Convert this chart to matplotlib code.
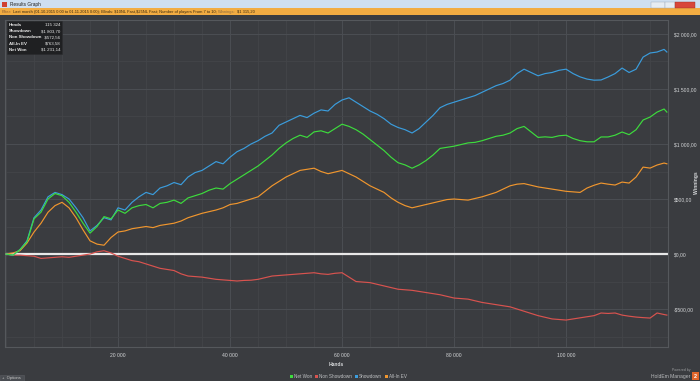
import matplotlib
matplotlib.use("Agg")
import matplotlib.pyplot as plt
from matplotlib.patches import Rectangle
from matplotlib.ticker import FixedLocator, MultipleLocator

# hands axis positions (chart's own x scale), step 1250
hands = [i * 1250 for i in range(95)] + [118000]

showdown = [0, -10, 40, 120, 330, 400, 520, 560, 540, 500, 420, 330, 210, 260, 330, 310,
            420, 400, 470, 520, 560, 540, 600, 620, 650, 630, 700, 740, 760, 800, 840, 820,
            880, 930, 960, 1000, 1030, 1070, 1100, 1170, 1200, 1230, 1260, 1240, 1280, 1310,
            1300, 1360, 1400, 1420, 1380, 1340, 1300, 1270, 1230, 1180, 1150, 1130, 1100,
            1140, 1200, 1260, 1330, 1360, 1380, 1400, 1420, 1440, 1470, 1500, 1530, 1550,
            1580, 1640, 1680, 1650, 1620, 1640, 1650, 1670, 1680, 1640, 1610, 1590, 1580,
            1582, 1609, 1640, 1690, 1650, 1680, 1790, 1827, 1836, 1860, 1836]

non_showdown = [0, -10, -10, -15, -20, -40, -35, -30, -25, -30, -20, -10, 0, 20, 30, 10,
                -20, -40, -60, -70, -90, -110, -130, -140, -150, -180, -200, -205, -210,
                -220, -230, -235, -240, -245, -240, -238, -230, -215, -200, -195, -190,
                -185, -180, -175, -170, -180, -185, -175, -170, -210, -250, -255, -260,
                -275, -290, -305, -320, -325, -330, -340, -350, -360, -370, -385, -400,
                -405, -410, -425, -440, -450, -460, -470, -480, -500, -520, -540, -560,
                -575, -590, -595, -600, -590, -580, -570, -560, -536, -540, -536, -555,
                -565, -573, -578, -582, -536, -550, -555]

net_won = [0, -10, 40, 110, 320, 380, 500, 550, 530, 470, 380, 280, 190, 250, 340, 320,
           400, 370, 420, 440, 450, 420, 460, 470, 490, 460, 510, 530, 550, 580, 600, 590,
           640, 680, 720, 760, 800, 850, 900, 960, 1010, 1050, 1080, 1060, 1110, 1120, 1100,
           1140, 1180, 1160, 1130, 1090, 1040, 990, 940, 880, 830, 810, 780, 810, 850, 900,
           960, 970, 980, 995, 1010, 1015, 1030, 1050, 1070, 1080, 1100, 1140, 1160, 1110,
           1060, 1065, 1060, 1075, 1080, 1050, 1030, 1020, 1020, 1064, 1064, 1080, 1109,
           1085, 1130, 1218, 1245, 1290, 1318, 1290]

allin_ev = [0, 10, 30, 100, 200, 280, 380, 440, 470, 420, 330, 220, 120, 90, 80, 150, 200,
            210, 230, 240, 250, 240, 260, 270, 280, 300, 330, 350, 370, 385, 400, 420, 450,
            460, 480, 500, 520, 570, 620, 660, 700, 730, 760, 770, 780, 750, 730, 745, 760,
            730, 700, 660, 620, 590, 560, 510, 470, 440, 420, 435, 450, 465, 480, 495, 500,
            495, 490, 505, 520, 540, 560, 590, 620, 635, 640, 625, 610, 600, 590, 580, 570,
            565, 560, 600, 625, 645, 635, 627, 654, 645, 700, 790, 781, 809, 827, 820]

y_ticks = [-500, 0, 500, 1000, 1500, 2000]
y_tick_labels = ["-$500,00", "$0,00", "$500,00", "$1 000,00", "$1 500,00", "$2 000,00"]
x_ticks = [20000, 40000, 60000, 80000, 100000]
x_tick_labels = ["20 000", "40 000", "60 000", "80 000", "100 000"]

stat_labels = ["Hands", "Showdown", "Non Showdown", "All-In EV", "Net Won"]
stat_values = ["115 324", "$1 803,70", "-$572,56", "$763,58", "$1 231,14"]

legend_names = ["Net Won", "Non Showdown", "Showdown", "All-In EV"]

BG = "#3a3c40"
GRID = "#4a4d52"
TXT = "#d4d6d8"
C_NET = "#3ddc3d"
C_NSD = "#d9534f"
C_SD = "#3b9ddd"
C_EV = "#f0962e"

plt.rcParams['font.family'] = ['Liberation Sans', 'DejaVu Sans']
plt.rcParams['text.parse_math'] = False

W, H = 700, 381
fig = plt.figure(figsize=(7, 3.81), dpi=100, facecolor=BG)
renderer = fig.canvas.get_renderer()


def fx(px):
    return px / W


def fy(py):
    return 1 - py / H


ax = fig.add_axes([fx(5), fy(347), fx(668) - fx(5), fy(20) - fy(347)])
ax.set_facecolor(BG)
ax.set_xlim(-180, 118200)
ax.set_ylim(-845, 2127)

ax.xaxis.set_major_locator(FixedLocator(x_ticks))
ax.xaxis.set_minor_locator(MultipleLocator(5000))
ax.yaxis.set_major_locator(FixedLocator(y_ticks))
ax.yaxis.set_minor_locator(MultipleLocator(250))
ax.grid(True, which="major", color=GRID, lw=0.8)
ax.grid(True, which="minor", color="#434549", lw=0.6)
ax.set_axisbelow(True)
for s in ax.spines.values():
    s.set_color("#55585c")
    s.set_linewidth(0.8)

ax.axhline(0, color="#e8e8e8", lw=1.6, zorder=2)

lw = 0.85
ax.plot(hands, non_showdown, color=C_NSD, lw=lw, zorder=3)
ax.plot(hands, allin_ev, color=C_EV, lw=lw, zorder=3)
ax.plot(hands, net_won, color=C_NET, lw=lw, zorder=4)
ax.plot(hands, showdown, color=C_SD, lw=lw, zorder=3)

ax.yaxis.tick_right()
ax.set_yticklabels(y_tick_labels)
ax.set_xticklabels(x_tick_labels)
ax.tick_params(axis="both", which="both", length=0, colors=TXT, labelsize=3.6)
ax.tick_params(axis="y", pad=4)
ax.tick_params(axis="x", pad=4)
ax.set_xlabel("Hands", color=TXT, fontsize=3.6, fontweight="bold", labelpad=3)
fig.text(fx(696.5), fy(183), "Winnings", color=TXT, fontsize=3.6, fontweight="bold",
         rotation=90, ha="center", va="center")


def seq_text(x_px, y_px, pieces, fontsize, gap_px=1.5, **kw):
    """Place text pieces one after another starting at x_px."""
    x = x_px
    for s, c, extra in pieces:
        t = fig.text(fx(x), fy(y_px), s, fontsize=fontsize, color=c, va="center", **kw, **extra)
        bb = t.get_window_extent(renderer=renderer)
        x = bb.x1 + gap_px
    return x


# title bar
fig.patches.append(Rectangle((0, fy(8.5)), 1, 8.5 / H, transform=fig.transFigure,
                             facecolor="#cfdff0", edgecolor="none", zorder=0))
fig.patches.append(Rectangle((fx(2), fy(7)), 5 / W, 5 / H, transform=fig.transFigure,
                             facecolor="#d04030", edgecolor="none", zorder=1))
fig.text(fx(10), fy(4.2), "Results Graph", fontsize=3.4, color="#202020", va="center")
fig.patches.append(Rectangle((fx(651), fy(7.5)), 14 / W, 6 / H, transform=fig.transFigure,
                             facecolor="#e6ecf2", edgecolor="#9aa8b8", lw=0.3, zorder=1))
fig.patches.append(Rectangle((fx(665), fy(7.5)), 10 / W, 6 / H, transform=fig.transFigure,
                             facecolor="#e6ecf2", edgecolor="#9aa8b8", lw=0.3, zorder=1))
fig.patches.append(Rectangle((fx(675), fy(7.5)), 20 / W, 6 / H, transform=fig.transFigure,
                             facecolor="#d8463a", edgecolor="#9a3028", lw=0.3, zorder=1))

# orange filter bar
fig.patches.append(Rectangle((0, fy(15)), 1, 6.5 / H, transform=fig.transFigure,
                             facecolor="#f2ac42", edgecolor="none", zorder=0))
seq_text(2, 11.8, [
    ("Filter:", "#8a5a30", {}),
    ("Last month (01.10.2015 0:00 to 01.11.2015 0:00); Blinds: $10NL Fast,$25NL Fast; "
     "Number of players From 7 to 10;", "#3a2a10", {}),
    ("Winnings:", "#8a6a40", {}),
    ("$1 315,20", "#3a2a10", {}),
], fontsize=2.9, gap_px=1.2)

# stats box
fig.patches.append(Rectangle((fx(7), fy(54)), 55 / W, 33 / H, transform=fig.transFigure,
                             facecolor="#1f2022", edgecolor="#2a2b2d", lw=0.4, zorder=5))
for i, (lab, val) in enumerate(zip(stat_labels, stat_values)):
    yy = fy(25 + i * 6.2)
    fig.text(fx(9), yy, lab, fontsize=3.2, color="#e8e8e8", va="center", fontweight="bold",
             zorder=6)
    fig.text(fx(60.5), yy, val, fontsize=3.2, color="#e8e8e8", va="center", ha="right",
             zorder=6)

# legend
leg_colors = [C_NET, C_NSD, C_SD, C_EV]
x = 290
for name, c in zip(legend_names, leg_colors):
    fig.patches.append(Rectangle((fx(x), fy(377.5)), 2.5 / W, 2.5 / H,
                                 transform=fig.transFigure, facecolor=c, edgecolor="none"))
    t = fig.text(fx(x + 4), fy(376.3), name, fontsize=3.3, color="#c0c2c4", va="center")
    x = t.get_window_extent(renderer=renderer).x1 + 3

# options button
fig.patches.append(Rectangle((0, 0), 24 / W, 6 / H, transform=fig.transFigure,
                             facecolor="#4a4d52", edgecolor="#5a5d62", lw=0.4))
fig.text(fx(2.5), fy(378), "+  Options", fontsize=3.0, color="#c8c8c8", va="center")

# powered by
fig.text(fx(690), fy(370.5), "Powered by", fontsize=2.5, color="#9a9c9e", va="center",
         ha="right")
fig.text(fx(690), fy(376.5), "HoldEm Manager", fontsize=3.6, color="#b8babc", va="center",
         ha="right")
fig.patches.append(Rectangle((fx(692), fy(380)), 7 / W, 8 / H, transform=fig.transFigure,
                             facecolor="#e0652a", edgecolor="none"))
fig.text(fx(695.5), fy(376), "2", fontsize=4, color="white", va="center", ha="center",
         fontweight="bold")

fig.savefig("out.png", dpi=100, facecolor=BG)
